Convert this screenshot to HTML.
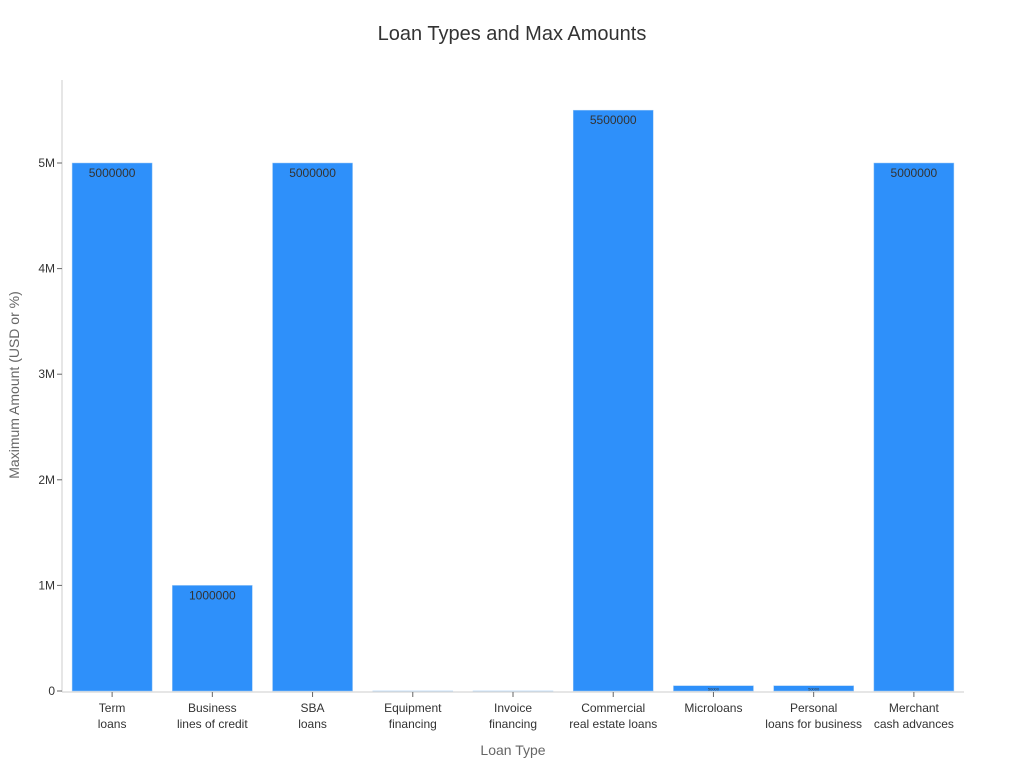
<!DOCTYPE html>
<html><head><meta charset="utf-8"><style>
body{margin:0;background:#fff;font-family:"Liberation Sans","DejaVu Sans",sans-serif}
</style></head><body>
<svg id="c" width="1024" height="768" xmlns="http://www.w3.org/2000/svg">
<text x="512" y="40" text-anchor="middle" font-size="20" fill="#333">Loan Types and Max Amounts</text>
<text x="19" y="385" text-anchor="middle" font-size="14" fill="#666" transform="rotate(-90 19 385)">Maximum Amount (USD or %)</text>
<text x="513" y="755" text-anchor="middle" font-size="14" fill="#666">Loan Type</text>
<line x1="62" y1="80" x2="62" y2="692" stroke="#ccc"/>
<line x1="62" y1="692" x2="964" y2="692" stroke="#ccc"/>
<g id="g"></g>
</svg>
<script>
const categories=[["Term","loans"],["Business","lines of credit"],["SBA","loans"],["Equipment","financing"],["Invoice","financing"],["Commercial","real estate loans"],["Microloans",""],["Personal","loans for business"],["Merchant","cash advances"]];
const values=[5000000,1000000,5000000,100,90,5500000,50000,50000,5000000];
const yTicks=[0,1000000,2000000,3000000,4000000,5000000];
const yTickLabels=["0","1M","2M","3M","4M","5M"];
const NS="http://www.w3.org/2000/svg",g=document.getElementById('g');
const x0=62,x1=964,yBase=691,pxPerUnit=(691-163)/5000000;
const step=(x1-x0)/categories.length,bw=80;
const y=v=>yBase-v*pxPerUnit;
const xc=i=>x0+step*(i+0.5);
function mk(t,a,txt){const e=document.createElementNS(NS,t);for(const k in a)e.setAttribute(k,a[k]);if(txt!==undefined)e.textContent=txt;g.appendChild(e);return e;}
yTicks.forEach((v,i)=>{
 const l=mk('line',{x1:57,x2:62,y1:y(v),y2:y(v),stroke:'#666'});
 
 
 const t=mk('text',{x:55,y:y(v)+4,'text-anchor':'end','font-size':12,fill:'#333'},yTickLabels[i]);
 
 
});
categories.forEach((c,i)=>{
 const v=values[i],top=y(v),h=yBase-top;
 const r=mk('rect',{x:xc(i)-bw/2,y:top,width:bw,height:Math.max(h,0),fill:'#2e90fa',stroke:'#9cc8f5','stroke-width':0.5});
 
 
 if(h>20){
  const t=mk('text',{x:xc(i),y:top+14,'text-anchor':'middle','font-size':12,fill:'#333'},String(v));
  
  
 }else if(h>2){
  const t=mk('text',{x:xc(i),y:top+h-0.5,'text-anchor':'middle','font-size':4,fill:'#333'},String(v));
  
  
 }
 const tk=mk('line',{x1:xc(i),x2:xc(i),y1:692,y2:697,stroke:'#666'});
 
 
 const t1=mk('text',{x:xc(i),y:712,'text-anchor':'middle','font-size':12,fill:'#333'},c[0]);
 
 
 if(c[1]){const t2=mk('text',{x:xc(i),y:728,'text-anchor':'middle','font-size':12,fill:'#333'},c[1]);
 
 }
});
</script>
</body></html>
